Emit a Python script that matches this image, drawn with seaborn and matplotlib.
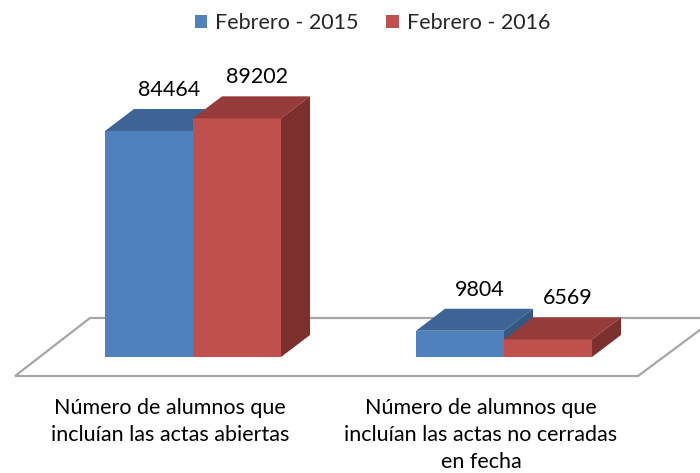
import numpy as np
import pandas as pd
import seaborn as sns
import matplotlib.pyplot as plt
from matplotlib.patches import Polygon

categories = ["Número de alumnos que\nincluían las actas abiertas",
              "Número de alumnos que\nincluían las actas no cerradas\nen fecha"]
series = ["Febrero - 2015", "Febrero - 2016"]
values_2015 = [84464, 9804]
values_2016 = [89202, 6569]

front_colors = {"Febrero - 2015": "#4F81BD", "Febrero - 2016": "#C0504D"}
top_colors = {"Febrero - 2015": "#3C6596", "Febrero - 2016": "#953B39"}
side_colors = {"Febrero - 2015": "#345783", "Febrero - 2016": "#7C302E"}

df = pd.DataFrame({
    "categoria": categories * 2,
    "serie": [series[0]] * 2 + [series[1]] * 2,
    "valor": values_2015 + values_2016,
})

sns.set_style("white")
plt.rcParams['font.family'] = ['Lato', 'DejaVu Sans']

W, H = 700, 473
fig = plt.figure(figsize=(W / 100, H / 100), dpi=100)
ax = fig.add_axes([0, 0, 1, 1])

# pixel layout: group centres at x=193 / 504, baseline at y=357 (from top)
gap_px = 311.0
val_per_px = 84464 / 226.0

sns.barplot(data=df, x="categoria", y="valor", hue="serie",
            palette=front_colors, width=0.566, saturation=1,
            linewidth=0, ax=ax, zorder=3)
ax.set_xlim(-193 / gap_px, (W - 193) / gap_px)
ax.set_ylim(-(H - 357) * val_per_px, 357 * val_per_px)

dx = 29 / gap_px
dy = 22 * val_per_px

# floor
fx = lambda px: (px - 193) / gap_px
fy = lambda py: (357 - py) * val_per_px
floor = Polygon([(fx(15), fy(376)), (fx(638), fy(376)), (fx(716), fy(318)), (fx(90), fy(318))],
                closed=True, facecolor="white", edgecolor="#A6A6A6", linewidth=1.6, zorder=1)
ax.add_patch(floor)

# 3d faces on each bar
bars = [p for p in ax.patches if p is not floor and p.get_height() > 0]
for i, p in enumerate(bars):
    s = series[i // 2]
    x0 = p.get_x()
    x1 = x0 + p.get_width()
    h = p.get_height()
    z = 3 + i
    p.set_zorder(z)
    ax.add_patch(Polygon([(x0, h), (x1, h), (x1 + dx, h + dy), (x0 + dx, h + dy)],
                         closed=True, facecolor=top_colors[s], edgecolor="none", zorder=z))
    ax.add_patch(Polygon([(x1, 0), (x1 + dx, dy), (x1 + dx, h + dy), (x1, h)],
                         closed=True, facecolor=side_colors[s], edgecolor="none", zorder=z))
    ax.text((x0 + x1) / 2 + 20 / gap_px, h + 41 * val_per_px, f"{int(h)}",
            ha="center", va="center", fontsize=15.5, color="#000000", zorder=20)

for i, c in enumerate(categories):
    ax.text(i - 23 / gap_px, fy(398), c, ha="center", va="top", fontsize=15.5,
            linespacing=1.45, color="#000000")

ax.set_axis_off()
handles, labels = ax.get_legend_handles_labels()
ax.legend(handles, labels, loc="center", bbox_to_anchor=(0.532, 1 - 23 / H), ncol=2,
          frameon=False, fontsize=15.5, handlelength=0.6, handleheight=0.6,
          handletextpad=0.35, columnspacing=1.3)

fig.savefig("out.png", dpi=100)
